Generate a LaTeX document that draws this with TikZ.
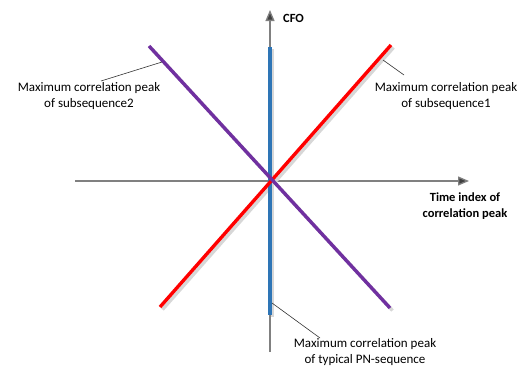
\documentclass[tikz,border=0pt]{standalone}
\usepackage{fontspec}
\setmainfont{Carlito}
\usetikzlibrary{arrows.meta}
\definecolor{axisgray}{RGB}{128,128,128}
\definecolor{tipgray}{RGB}{64,64,64}
\definecolor{lblue}{RGB}{46,117,182}
\definecolor{lpurple}{RGB}{112,48,160}
\definecolor{shadowgray}{RGB}{215,215,215}
\begin{document}
\begin{tikzpicture}[x=1pt,y=-1pt,
  axisline/.style={draw=axisgray,line width=1.3pt,-{Triangle[length=11pt,width=9pt,fill=tipgray]}},
  plotline/.style={line width=3.4pt},
  shadowline/.style={line width=3.4pt,draw=shadowgray},
  leader/.style={draw=black!80,line width=0.6pt},
  lbl/.style={font=\fontsize{13}{15.5}\selectfont,align=center,inner sep=0pt},
  bold/.style={font=\bfseries\fontsize{12.5}{15.5}\selectfont,align=center,inner sep=0pt}]
\useasboundingbox (0,0) rectangle (524,372);
% axes
\coordinate (yb) at (270,352);
\coordinate (yt) at (270,10);
\coordinate (xl) at (75,181);
\coordinate (xr) at (469,181);
\draw[axisline] (xl) -- (xr);
\draw[axisline] (yb) -- (yt);
% plot lines with shadows
\coordinate (ra) at (160,307);
\coordinate (rb) at (391,45);
\coordinate (pa) at (149,46);
\coordinate (pb) at (390,308);
\coordinate (ba) at (270,47);
\coordinate (bb) at (270,315);
\draw[shadowline] ([shift={(2.5,2.5)}]ra) -- ([shift={(2.5,2.5)}]rb);
\draw[shadowline] ([shift={(2.5,2.5)}]pa) -- ([shift={(2.5,2.5)}]pb);
\draw[shadowline] ([shift={(2.5,2)}]ba) -- ([shift={(2.5,2)}]bb);
\draw[plotline,draw=lblue,line width=4pt] (ba) -- (bb);
\draw[plotline,draw=red] (ra) -- (rb);
\draw[plotline,draw=lpurple] (pa) -- (pb);
% labels
\node[bold,anchor=west] (cfo) at (283,18) {CFO};
\node[bold] (time) at (465,206) {Time index of\\correlation peak};
\node[lbl] (sub2) at (89,96) {Maximum correlation peak\\of subsequence2};
\node[lbl] (sub1) at (446,96) {Maximum correlation peak\\of subsequence1};
\node[lbl] (pn) at (365,352) {Maximum correlation peak\\of typical PN-sequence};
% leaders
\coordinate (l2a) at (101,81);
\coordinate (l2b) at (162,62);
\coordinate (l1a) at (404,75);
\coordinate (l1b) at (383,60);
\coordinate (lpa) at (320,338);
\coordinate (lpb) at (272,303);
\draw[leader] (l2a) -- (l2b);
\draw[leader] (l1a) -- (l1b);
\draw[leader] (lpa) -- (lpb);
\end{tikzpicture}
\end{document}
